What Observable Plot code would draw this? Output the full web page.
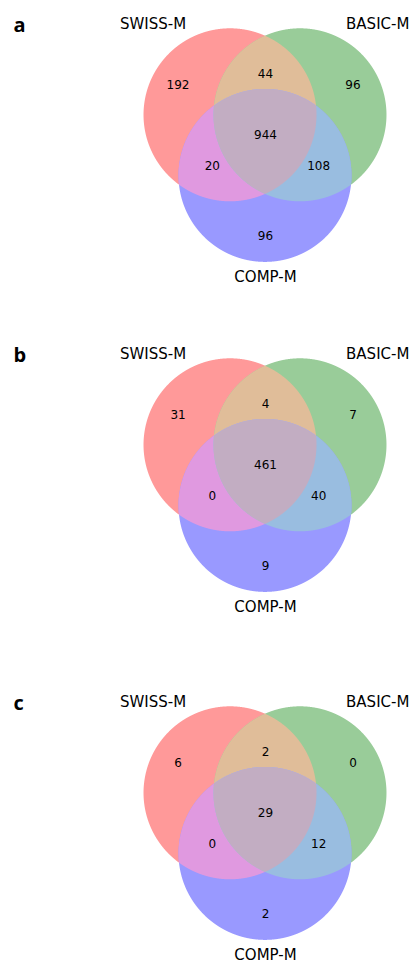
<!DOCTYPE html>
<html>
<head>
<meta charset="utf-8">
<script src="https://cdn.jsdelivr.net/npm/d3@7"></script>
<script src="https://cdn.jsdelivr.net/npm/@observablehq/plot@0.6"></script>
<style>
  html, body { margin: 0; padding: 0; background: #fff; }
  #chart { width: 409px; }
  #chart svg { display: block; }
</style>
</head>
<body>
<div id="chart"></div>
<script>
// ---- data ----
const panelLetters = ["a", "b", "c"];
const setNames = ["SWISS-M", "BASIC-M", "COMP-M"];
const regionKeys = ["100", "010", "110", "001", "101", "011", "111"];
const countsA = [192, 96, 44, 96, 20, 108, 944];
const countsB = [31, 7, 4, 9, 0, 40, 461];
const countsC = [6, 0, 2, 2, 0, 12, 29];
const panelCounts = [countsA, countsB, countsC];

// ---- layout (unit = circle radius) ----
const W = 409;
const R = 86.5;                 // px per unit
const CX = 265, CY = 135;       // px of diagram center within panel
const panelHeights = [330, 348, 289];
const d = 0.467;                // distance of each circle center from diagram center
const centers = [
  [-d * Math.cos(Math.PI / 6), -d * Math.sin(Math.PI / 6)],
  [ d * Math.cos(Math.PI / 6), -d * Math.sin(Math.PI / 6)],
  [0, d]
];
const setColors = ["#ff9999", "#99cc99", "#9999ff"];
const regionColors = {"110": "#e0bd99", "101": "#e099e0", "011": "#99bde0", "111": "#c2adc2"};
const singleFactor = 2.5, pairFactor = 1.52;
const setLabelOffsets = [[-0.896, -1.05], [0.893, -1.05], [0, 1.171]];

// sample x positions: dense near each circle's extremes
let xs = [];
for (const [cx] of centers) {
  for (let i = 0; i <= 720; i++) xs.push(cx - Math.cos(Math.PI * i / 720));
}
for (let i = 0; i <= 800; i++) xs.push(-1.6 + 3.2 * i / 800);
xs = Array.from(new Set(xs.map(v => +v.toFixed(6)))).sort((a, b) => a - b);

function regionArea(setIdx) {
  const pts = [];
  for (const x of xs) {
    let top = -Infinity, bottom = Infinity, ok = true;
    for (const k of setIdx) {
      const [cx, cy] = centers[k];
      const dx = x - cx;
      if (Math.abs(dx) > 1) { ok = false; break; }
      const h = Math.sqrt(Math.max(0, 1 - dx * dx));
      top = Math.max(top, cy - h);
      bottom = Math.min(bottom, cy + h);
    }
    if (ok && top <= bottom) pts.push({x, y1: top, y2: bottom});
  }
  return pts;
}

const shapes = [
  {sets: [0], fill: setColors[0]},
  {sets: [1], fill: setColors[1]},
  {sets: [2], fill: setColors[2]},
  {sets: [0, 1], fill: regionColors["110"]},
  {sets: [0, 2], fill: regionColors["101"]},
  {sets: [1, 2], fill: regionColors["011"]},
  {sets: [0, 1, 2], fill: regionColors["111"]}
].map(s => ({...s, pts: regionArea(s.sets)}));

function labelPos(key) {
  const on = key.split("").map(c => c === "1");
  const n = on.filter(Boolean).length;
  if (n === 3) return [0, 0];
  if (n === 1) { const i = on.indexOf(true); return [centers[i][0] * singleFactor, centers[i][1] * singleFactor]; }
  const j = on.indexOf(false);
  return [-centers[j][0] * pairFactor, -centers[j][1] * pairFactor];
}

const chart = document.getElementById("chart");
panelLetters.forEach((letter, p) => {
  const H = panelHeights[p];
  const counts = panelCounts[p];
  const regionLabels = regionKeys.map((k, i) => {
    const [x, y] = labelPos(k);
    return {x, y, text: String(counts[i])};
  });
  const setLabels = setNames.map((name, i) => ({
    x: centers[i][0] + setLabelOffsets[i][0],
    y: centers[i][1] + setLabelOffsets[i][1],
    text: name
  }));
  const marks = shapes.map(s => Plot.areaY(s.pts, {x: "x", y1: "y1", y2: "y2", fill: s.fill, curve: "linear"}));
  marks.push(
    Plot.text(regionLabels, {x: "x", y: "y", text: "text", fontSize: 12, fill: "#000"}),
    Plot.text(setLabels, {x: "x", y: "y", text: "text", fontSize: 15, fill: "#000"}),
    Plot.text([letter], {frameAnchor: "top-left", text: d => d, dx: 13, dy: 17.5, textAnchor: "start",
      fontSize: 20, fontWeight: "bold", fontFamily: "Open Sans", fill: "#000"})
  );
  const svg = Plot.plot({
    width: W,
    height: H,
    margin: 0,
    x: {domain: [-CX / R, (W - CX) / R], range: [0, W], axis: null},
    y: {domain: [-CY / R, (H - CY) / R], range: [0, H], axis: null},
    style: {fontFamily: "DejaVu Sans", background: "#fff"},
    marks
  });
  chart.appendChild(svg);
});
</script>
</body>
</html>
